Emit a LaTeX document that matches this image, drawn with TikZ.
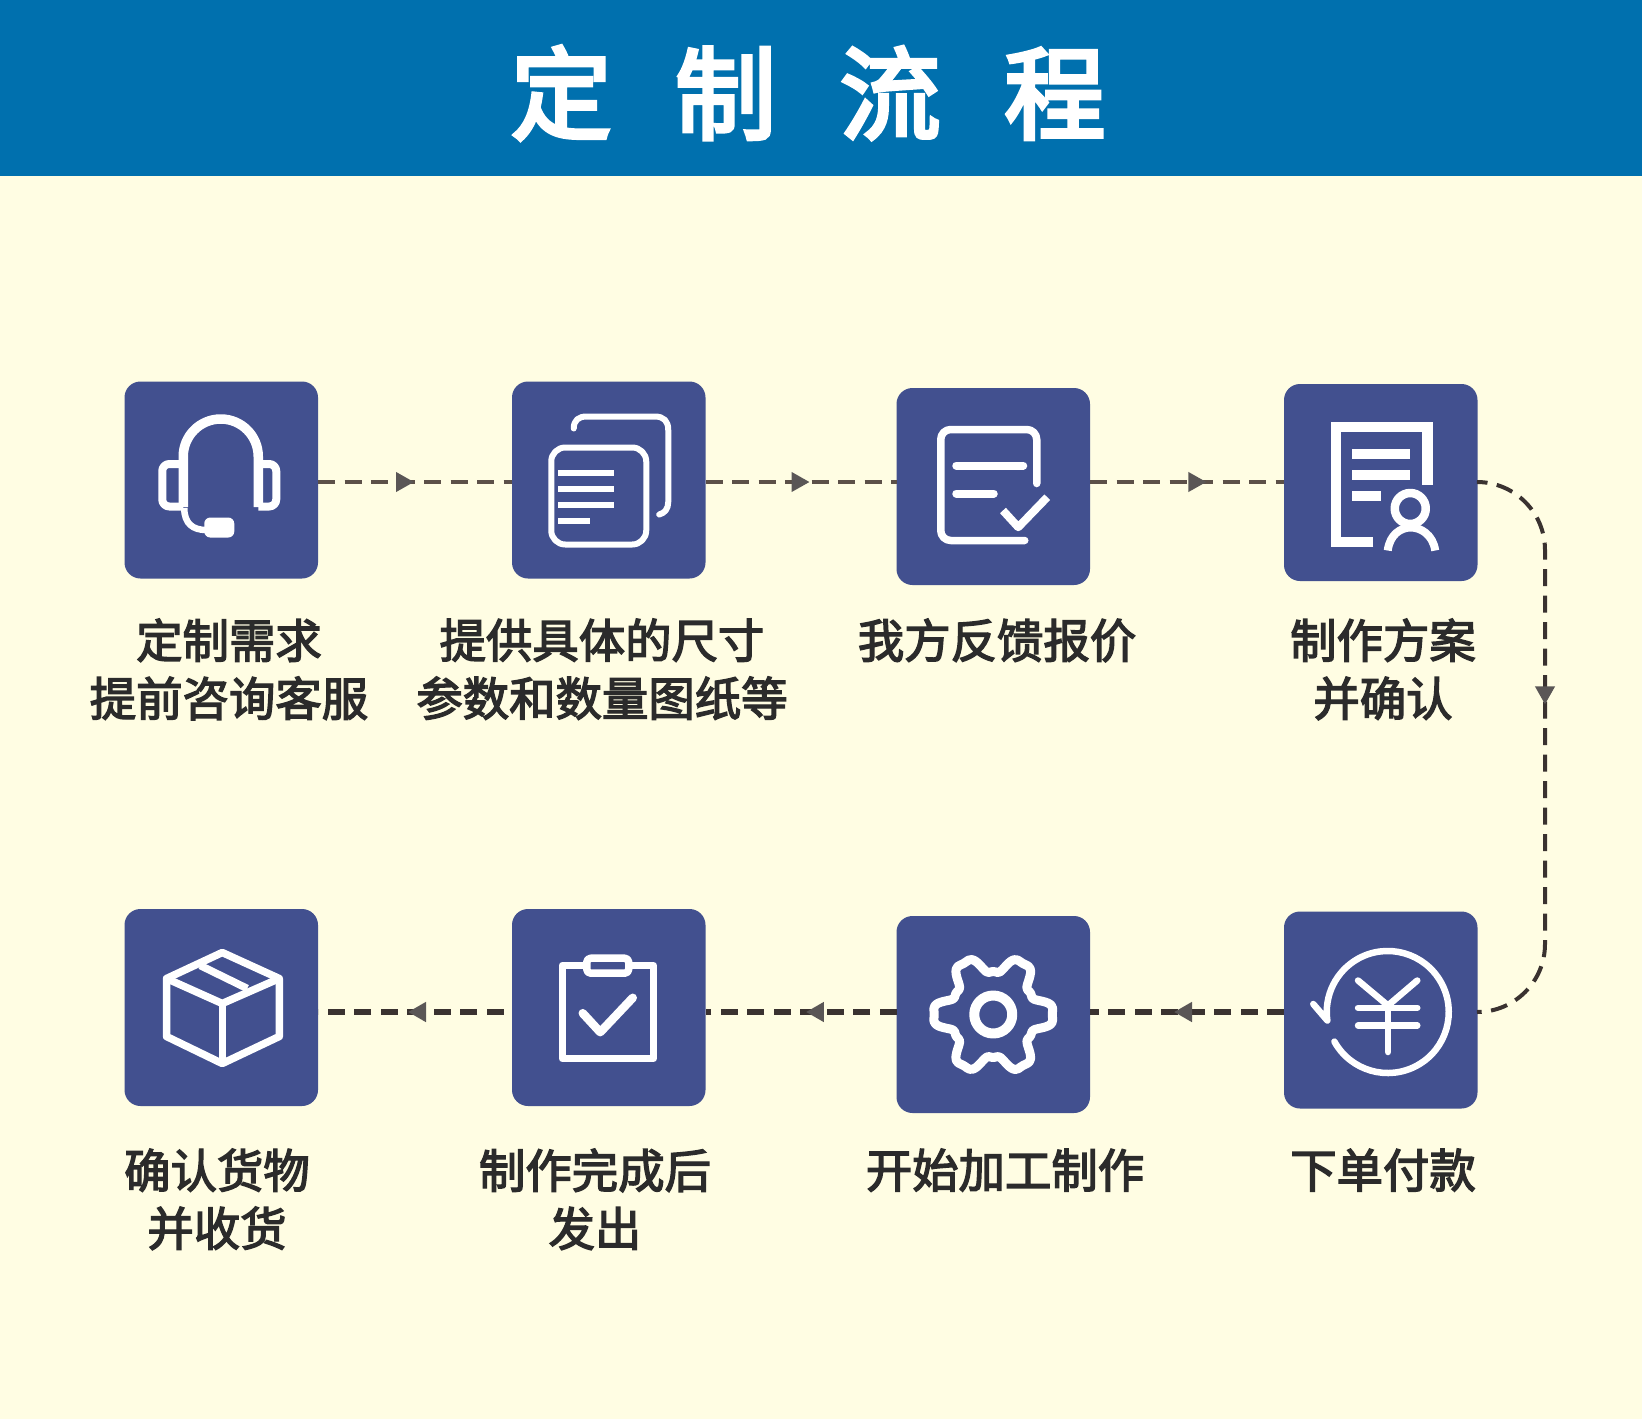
\documentclass[tikz,border=0pt]{standalone}
\usepackage{fontspec}
\newfontfamily\cjktitle{Noto Sans CJK SC}[FakeBold=4]
\newfontfamily\cjklabel{Noto Sans CJK SC}[FakeBold=3]
\usetikzlibrary{positioning,arrows.meta,decorations.markings}
\definecolor{paper}{HTML}{FFFDE3}
\definecolor{bandblue}{HTML}{0070AE}
\definecolor{boxblue}{HTML}{42508F}
\definecolor{ink}{HTML}{2B2B2B}
\definecolor{lineone}{HTML}{5C5048}
\definecolor{linetwo}{HTML}{3A3230}
\definecolor{tipgrey}{HTML}{5A5656}
\tikzset{
    >=Stealth,
    stepbox/.style={
        rectangle,
        rounded corners=16pt,
        fill=boxblue,
        inner sep=0pt,
        outer sep=0pt,
        minimum width=193.5pt,
        minimum height=197pt
    },
    steplabel/.style={
        anchor=north,
        align=center,
        text=ink,
        inner sep=0pt,
        font=\cjklabel\fontsize{46.4}{58}\selectfont
    },
    flow/.style={
        draw=lineone,
        line width=3.8pt,
        dash pattern=on 17pt off 9.5pt
    },
    flowdark/.style={
        flow,
        draw=linetwo,
        line width=5.2pt
    },
    midtip/.style={
        postaction={
            decorate,
            decoration={
                markings,
                mark=at position #1 with {\arrow[tipgrey]{Triangle[length=18pt,width=19pt]}}
            }
        }
    },
    icon/.style={
        draw=white,
        line width=7.5pt,
        line join=round
    },
    iconfill/.style={
        fill=white,
        draw=none
    }
}

\begin{document}
\begin{tikzpicture}[x=1pt,y=1pt]

\useasboundingbox (0,0) rectangle (1642,-1419);
\fill[paper] (0,0) rectangle (1642,-1419);

% Title band
\node[anchor=north west, fill=bandblue, inner sep=0pt, outer sep=0pt,
    minimum width=1642pt, minimum height=176pt] (band) at (0,0) {};
\node[text=white, inner sep=0pt, font=\cjktitle\fontsize{101}{101}\selectfont] (title) at (808,-93)
{定\hspace{63.5pt}制\hspace{63.5pt}流\hspace{63.5pt}程};

% Upper row
\node[stepbox] (need) at (221.25,-480) {};
\node[stepbox, right=194pt of need] (size) {};
\node[stepbox, right=191pt of size, yshift=-6.5pt] (quote) {};
\node[stepbox, right=194pt of quote, yshift=4pt] (plan) {};

% Lower row
\node[stepbox] (goods) at (221.25,-1007.5) {};
\node[stepbox, right=194pt of goods] (ship) {};
\node[stepbox, right=191pt of ship, yshift=-7pt] (make) {};
\node[stepbox, right=194pt of make, yshift=4.5pt] (pay) {};

% Labels
\node[steplabel] (needtext) at (229,-618.5) {定制需求\\提前咨询客服};
\node[steplabel] (sizetext) at (602,-618.5) {提供具体的尺寸\\参数和数量图纸等};
\node[steplabel] (quotetext) at (997,-618.5) {我方反馈报价};
\node[steplabel] (plantext) at (1383,-618.5) {制作方案\\并确认};
\node[steplabel] (goodstext) at (217,-1148.5) {确认货物\\并收货};
\node[steplabel] (shiptext) at (595,-1148.5) {制作完成后\\发出};
\node[steplabel] (maketext) at (1005,-1148.5) {开始加工制作};
\node[steplabel] (paytext) at (1383,-1148.5) {下单付款};

% Connector heights and the turn at the right
\coordinate (rowone) at (0,-482);
\coordinate (rowtwo) at (0,-1012);
\coordinate (turn) at (1545,-1012);

\draw[flow, midtip=0.495] (need.east |- rowone) -- (size.west |- rowone);
\draw[flow, midtip=0.545] (size.east |- rowone) -- (quote.west |- rowone);
\draw[flow, midtip=0.6] (quote.east |- rowone) -- (plan.west |- rowone);
\draw[flow, draw=linetwo, line width=4pt, dash phase=6pt, rounded corners=68pt, midtip=0.43]
    (plan.east |- rowone) -| (turn) -- (pay.east |- rowtwo);
\draw[flowdark, midtip=0.567] (pay.west |- rowtwo) -- (make.east |- rowtwo);
\draw[flowdark, midtip=0.474] (make.west |- rowtwo) -- (ship.east |- rowtwo);
\draw[flowdark, dash phase=18pt, midtip=0.536] (ship.west |- rowtwo) -- (goods.east |- rowtwo);

% Headset
\begin{scope}[shift={(need.center)}]
    \draw[icon, line width=9.5pt] (-38,-27) -- (-38,23.5) arc[start angle=180, end angle=0, radius=37.5pt] -- (37,-27);
    \draw[icon, line width=8pt, rounded corners=7pt] (-38,16) -- (-59,16) -- (-59,-26.5) -- (-38,-26.5);
    \draw[icon, line width=8pt, rounded corners=7pt] (37,16) -- (55,16) -- (55,-26.5) -- (37,-26.5);
    \draw[icon, line width=6.5pt] (-37,-28) .. controls (-37,-44) and (-28,-50) .. (-15,-50);
    \fill[iconfill, rounded corners=6pt] (-17,-37.5) rectangle (13,-57.5);
\end{scope}

% Two sheets
\begin{scope}[shift={(size.center)}]
    \draw[icon, line width=6pt, rounded corners=14pt] (-57.5,32.5) rectangle (37.5,-64.5);
    \draw[icon, line width=6pt, line cap=round] (-35,51.5) .. controls (-35,60) and (-30,63.5) .. (-22,63.5)
        -- (46,63.5) .. controls (55,63.5) and (59.5,59) .. (59.5,50)
        -- (59.5,-22) .. controls (59.5,-29) and (56,-33) .. (50.5,-34.5);
    \foreach \rowy in {6.8,-9.2,-24.5} {
        \draw[icon, line width=6pt] (-50.5,\rowy) -- (5,\rowy);
    }
    \draw[icon, line width=6pt] (-50.5,-40.5) -- (-18.5,-40.5);
\end{scope}

% Sheet with check
\begin{scope}[shift={(quote.center)}]
    \draw[icon, line cap=round, rounded corners=10pt] (31.5,-54) -- (-52.5,-54) -- (-52.5,57) -- (43.5,57) -- (43.5,3);
    \draw[icon, line width=8pt, line cap=round] (-37,21) -- (30,21);
    \draw[icon, line width=8pt, line cap=round] (-37,-7) -- (0.5,-7);
    \draw[icon, line width=8pt] (9.7,-24) -- (25,-40.7) -- (54,-10.7);
\end{scope}

% Sheet with person
\begin{scope}[shift={(plan.center)}]
    \draw[icon, line width=10.5pt, line join=miter] (-7.5,-59.7) -- (-45,-59.7) -- (-45,55.3) -- (46.5,55.3) -- (46.5,-2);
    \draw[icon, line width=10pt] (-28.5,29) -- (29.5,29);
    \draw[icon, line width=10pt] (-28.5,8) -- (29.5,8);
    \draw[icon, line width=10pt] (-28.5,-13.3) -- (0.5,-13.3);
    \draw[icon, line width=8.5pt] (29.5,-26) circle[radius=15.5pt];
    \draw[icon, line width=8pt] (7,-68) .. controls (9,-52) and (20,-45) .. (30,-45) .. controls (40,-45) and (52,-52) .. (54.5,-68);
\end{scope}

% Parcel
\begin{scope}[shift={(goods.center)}]
    \draw[icon] (1,55) -- (58,29) -- (58,-29) -- (1,-56) -- (-54.7,-29) -- (-54.7,29) -- cycle;
    \draw[icon] (-54.7,29) -- (1,4) -- (58,29);
    \draw[icon] (1,4) -- (1,-56);
    \draw[icon] (-21,42) -- (26,19);
\end{scope}

% Clipboard
\begin{scope}[shift={(ship.center)}]
    \draw[icon] (-46.5,42) rectangle (44.5,-51);
    \draw[icon, fill=boxblue, rounded corners=4pt] (-22,49.3) rectangle (20,34.3);
    \draw[icon, line width=8.5pt, line cap=round] (-26,-5.7) -- (-8.5,-24.7) -- (24,9.7);
\end{scope}

% Gear
\begin{scope}[shift={(make.center)}]
    \draw[icon, line width=9pt] plot[domain=0:358, samples=120, smooth]
        ({(51+10*(cos(6*\x)-0.2*cos(18*\x)))*cos(\x)},{(51+10*(cos(6*\x)-0.2*cos(18*\x)))*sin(\x)}) -- cycle;
    \draw[icon, line width=10pt] (0,0) circle[radius=19pt];
\end{scope}

% Coin with return arrow
\begin{scope}[shift={(pay.center)}]
    \draw[icon, line width=6.5pt, line cap=round] (7,-2) ++(209:61) arc[start angle=209, end angle=548, radius=61pt] -- (-67.5,6);
    \draw[icon, line width=6.5pt, line cap=round] (-22.7,29.5) -- (7.2,4.5) -- (36.5,29.5);
    \draw[icon, line width=6.5pt, line cap=round] (-22.7,2.2) -- (36.5,2.2);
    \draw[icon, line width=6.5pt, line cap=round] (-22.7,-15.5) -- (36.5,-15.5);
    \draw[icon, line width=6.5pt, line cap=round] (7.2,4.5) -- (7.2,-42);
\end{scope}

\end{tikzpicture}
\end{document}
